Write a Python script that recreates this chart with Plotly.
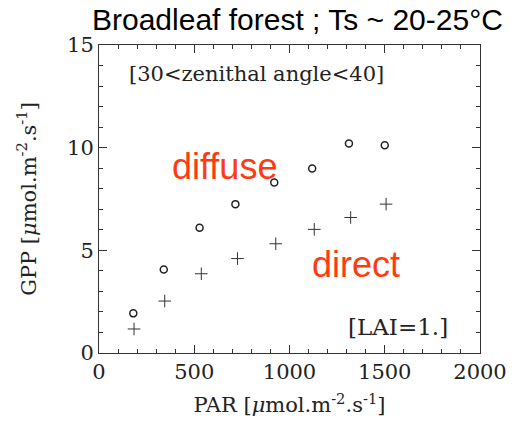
import plotly.graph_objects as go

# Data
par_diffuse = [180, 340, 528, 716, 920, 1119, 1312, 1500]
gpp_diffuse = [1.93, 4.07, 6.10, 7.25, 8.30, 8.98, 10.2, 10.12]
par_direct = [184, 345, 537, 727, 928, 1130, 1321, 1507]
gpp_direct = [1.17, 2.53, 3.86, 4.60, 5.32, 6.02, 6.60, 7.25]

x_ticks = [0, 500, 1000, 1500, 2000]
y_ticks = [0, 5, 10, 15]

SERIF = "DejaVu Serif"
RED = "#FF3A10"

fig = go.Figure()
fig.add_trace(go.Scatter(
    x=par_diffuse, y=gpp_diffuse, mode="markers", name="diffuse",
    marker=dict(symbol="circle-open", size=7, color="#222", line=dict(width=1.5, color="#222")),
))
fig.add_trace(go.Scatter(
    x=par_direct, y=gpp_direct, mode="markers", name="direct",
    marker=dict(symbol="cross-thin-open", size=9, color="#333", line=dict(width=1, color="#333")),
))

axis_common = dict(
    showgrid=False, zeroline=False, showline=True, linecolor="#333", linewidth=1,
    mirror="allticks", ticks="inside", ticklen=8, tickwidth=1, tickcolor="#333",
    tickfont=dict(family=SERIF, size=21, color="#222"),
)

fig.update_xaxes(
    range=[0, 2000], tickvals=x_ticks, ticktext=[str(v) for v in x_ticks],
    minor=dict(ticks="inside", dtick=100, ticklen=4, tickcolor="#333", showgrid=False),
    title=dict(text="PAR [<i>μ</i>mol.m<sup>-2</sup>.s<sup>-1</sup>]",
               font=dict(family=SERIF, size=21, color="#222"), standoff=14),
    **axis_common,
)
fig.update_yaxes(
    range=[0, 15], tickvals=y_ticks, ticktext=[str(v) for v in y_ticks],
    minor=dict(ticks="inside", dtick=1, ticklen=4, tickcolor="#333", showgrid=False),
    title=dict(text="GPP [<i>μ</i>mol.m<sup>-2</sup>.s<sup>-1</sup>]",
               font=dict(family=SERIF, size=21, color="#222"), standoff=24),
    **axis_common,
)

annotations = [
    dict(text="Broadleaf forest ; Ts ~ 20-25°C", xref="paper", yref="paper",
         x=0.52, y=1.083, xanchor="center", yanchor="middle", showarrow=False,
         font=dict(family="Liberation Sans", size=30, color="#000")),
    dict(text="[30<zenithal angle<40]", xref="x", yref="y", x=825, y=13.6,
         xanchor="center", yanchor="middle", showarrow=False,
         font=dict(family=SERIF, size=21, color="#222")),
    dict(text="[LAI=1.]", xref="x", yref="y", x=1572, y=1.28,
         xanchor="center", yanchor="middle", showarrow=False,
         font=dict(family=SERIF, size=23, color="#222")),
    dict(text="diffuse", xref="x", yref="y", x=660, y=9.1,
         xanchor="center", yanchor="middle", showarrow=False,
         font=dict(family="Liberation Sans", size=36, color=RED)),
    dict(text="direct", xref="x", yref="y", x=1350, y=4.3,
         xanchor="center", yanchor="middle", showarrow=False,
         font=dict(family="Liberation Sans", size=36, color=RED)),
]

fig.update_layout(
    width=519, height=428,
    margin=dict(l=99, r=37, t=45, b=75),
    paper_bgcolor="white", plot_bgcolor="white",
    showlegend=False,
    annotations=annotations,
)

fig.write_html("out.html")
